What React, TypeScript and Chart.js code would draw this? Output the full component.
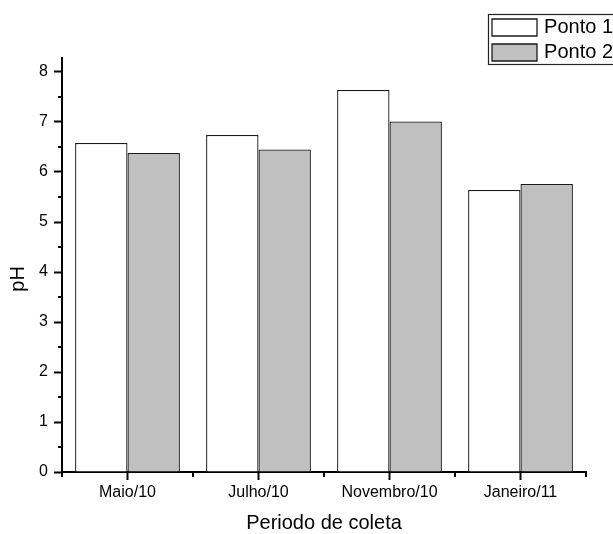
import React, { useEffect, useRef } from "react";
import { Chart, registerables } from "chart.js";

Chart.register(...registerables);

// pH per collection period at the two sampling points
const categories = ["Maio/10", "Julho/10", "Novembro/10", "Janeiro/11"];
const ponto1 = [6.58, 6.74, 7.64, 5.64];
const ponto2 = [6.38, 6.45, 7.01, 5.76];
const seriesNames = ["Ponto 1", "Ponto 2"];
const yMin = 0;
const yMax = 8.28;
const yStep = 1;

const FONT = "'Liberation Sans', Arial, Helvetica, sans-serif";

// Floating legend frame, minor ticks on both axes
const decorations = {
  id: "decorations",
  afterLayout(chart: any) {
    const lg = chart.legend;
    if (!lg) return;
    lg.left = 487;
    lg.top = 12.5;
    lg.right = 613;
    lg.bottom = 100;
    lg.width = lg.right - lg.left;
    lg.height = lg.bottom - lg.top;
  },
  afterDraw(chart: any) {
    const { ctx, scales } = chart;
    const x = scales.x;
    const y = scales.y;
    ctx.save();
    ctx.strokeStyle = "#000";
    ctx.lineWidth = 2;
    // minor ticks on y (half units)
    for (let v = yMin + yStep / 2; v < yMax; v += yStep) {
      const py = Math.round(y.getPixelForValue(v));
      ctx.beginPath();
      ctx.moveTo(x.left - 4, py);
      ctx.lineTo(x.left, py);
      ctx.stroke();
    }
    // minor ticks on x (category boundaries)
    for (let i = 0; i <= categories.length; i++) {
      const px = Math.round(x.getPixelForValue(i - 0.5));
      ctx.beginPath();
      ctx.moveTo(px, y.bottom);
      ctx.lineTo(px, y.bottom + 5);
      ctx.stroke();
    }
    // legend frame
    ctx.lineWidth = 1.2;
    ctx.strokeStyle = "#222";
    ctx.strokeRect(488.5, 14.5, 140, 50);
    ctx.restore();
  },
};

export default function App() {
  const ref = useRef<HTMLCanvasElement>(null);

  useEffect(() => {
    if (!ref.current) return;
    const chart = new Chart(ref.current, {
      type: "bar",
      data: {
        labels: categories,
        datasets: [
          {
            label: seriesNames[0],
            data: ponto1,
            backgroundColor: "#ffffff",
            borderColor: "#1a1a1a",
            borderWidth: 1.3,
          },
          {
            label: seriesNames[1],
            data: ponto2,
            backgroundColor: "#c0c0c0",
            borderColor: "#1a1a1a",
            borderWidth: 1.3,
          },
        ],
      },
      options: {
        responsive: false,
        animation: false,
        devicePixelRatio: 1,
        layout: { padding: { top: 58, right: 27, left: 0, bottom: 0 } },
        datasets: { bar: { categoryPercentage: 0.8, barPercentage: 1.0 } },
        plugins: {
          tooltip: { enabled: false },
          legend: {
            position: "chartArea",
            align: "start",
            labels: {
              boxWidth: 45,
              boxHeight: 17,
              padding: 5,
              color: "#000",
              textAlign: "right",
              font: { family: FONT, size: 20 },
            },
          },
        },
        scales: {
          x: {
            offset: true,
            afterFit(scale: any) {
              scale.height = 62;
            },
            border: { display: true, color: "#000", width: 2 },
            grid: {
              display: true,
              drawOnChartArea: false,
              drawTicks: true,
              offset: false,
              tickLength: 8,
              tickWidth: 2,
              tickColor: "#000",
              color: "#000",
            },
            ticks: {
              color: "#000",
              padding: 3,
              maxRotation: 0,
              font: { family: FONT, size: 16 },
            },
            title: {
              display: true,
              text: "Periodo de coleta",
              color: "#000",
              font: { family: FONT, size: 20, lineHeight: 1 },
              padding: { top: 0, bottom: 1 },
            },
          },
          y: {
            min: yMin,
            max: yMax,
            afterFit(scale: any) {
              scale.width = 62;
            },
            border: { display: true, color: "#000", width: 2 },
            grid: {
              display: true,
              drawOnChartArea: false,
              drawTicks: true,
              tickLength: 8,
              tickWidth: 2,
              tickColor: "#000",
              color: "#000",
            },
            ticks: {
              stepSize: yStep,
              includeBounds: false,
              color: "#000",
              padding: 6,
              font: { family: FONT, size: 16 },
            },
            title: {
              display: true,
              text: "pH\u00a0\u00a0\u00a0\u00a0\u00a0",
              color: "#000",
              font: { family: FONT, size: 20, lineHeight: 1 },
              padding: { top: 8, bottom: 0 },
            },
          },
        },
      },
      plugins: [decorations],
    } as any);
    return () => chart.destroy();
  }, []);

  return (
    <div style={{ position: "fixed", left: 0, top: 0, width: 613, height: 534, background: "#fff" }}>
      <canvas ref={ref} width={613} height={534} style={{ display: "block" }} />
    </div>
  );
}
